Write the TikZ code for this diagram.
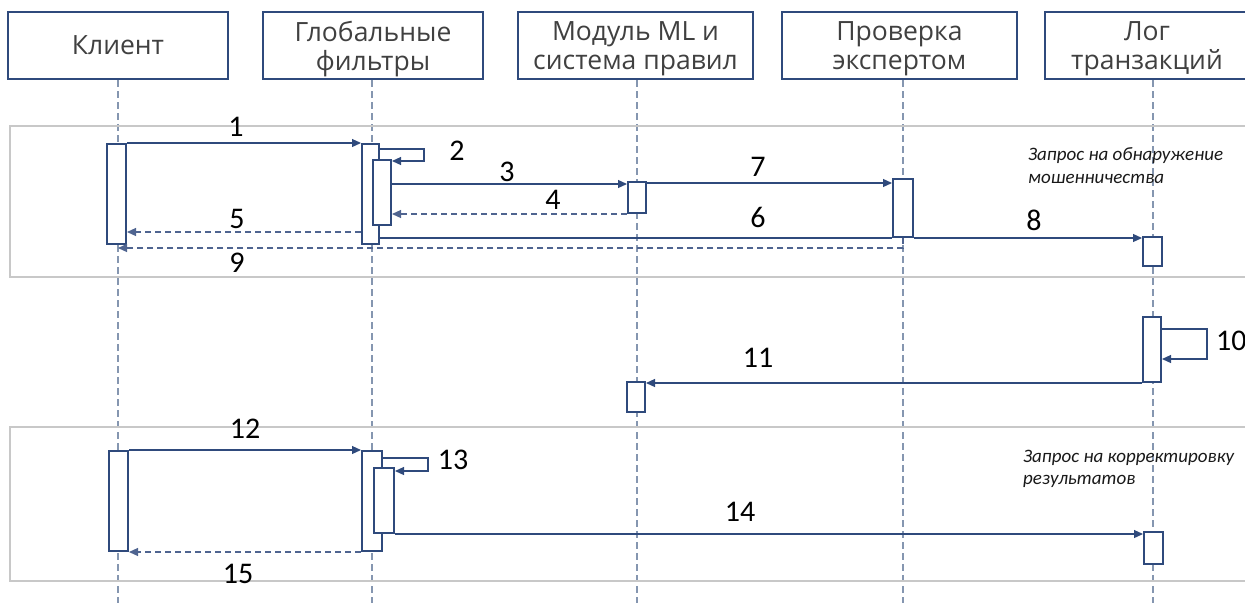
\documentclass[tikz,border=0pt]{standalone}
\usepackage{fontspec}
\setmainfont{Open Sans}
\newfontfamily\numfont{Carlito}
\usetikzlibrary{arrows.meta}
\definecolor{navy}{HTML}{2F4A7C}
\definecolor{lifec}{HTML}{8596B0}
\definecolor{retc}{HTML}{4F6490}
\definecolor{framec}{HTML}{C8C8C8}
\definecolor{textgray}{HTML}{404040}
\begin{document}
\begin{tikzpicture}[x=1pt,y=-1pt,
  head/.style={draw=navy, line width=2pt, text=textgray, font=\fontsize{26.5}{29}\selectfont, align=center, inner sep=0pt, minimum height=67pt, text depth=0pt},
  life/.style={draw=lifec, line width=1.1pt, dash pattern=on 7pt off 4pt},
  act/.style={draw=navy, line width=2pt, fill=white, inner sep=0pt, minimum width=18pt},
  msg/.style={draw=navy, line width=1.2pt, -{Triangle[length=9pt,width=8pt]}},
  ret/.style={draw=retc, line width=1.2pt, dash pattern=on 6pt off 4pt, -{Triangle[length=9pt,width=8pt]}},
  plain/.style={draw=navy, line width=1.2pt},
  frame/.style={draw=framec, line width=2pt},
  num/.style={font=\numfont\fontsize{30}{32}\selectfont, inner sep=0pt},
  note/.style={font=\numfont\itshape\fontsize{19}{22}\selectfont, inner sep=0pt, anchor=base west, text=black!90}
]
\useasboundingbox (0,0) rectangle (1245,603);

% headers
\node[head, minimum width=220pt] (hK) at (118,45.5) {Клиент};
\node[head, minimum width=220pt] (hF) at (373,45.5) {Глобальные\\фильтры};
\node[head, minimum width=235pt] (hM) at (635.5,45.5) {Модуль ML и\\система правил};
\node[head, minimum width=235pt] (hE) at (899.5,45.5) {Проверка\\экспертом};
\node[head, minimum width=204pt] (hL) at (1147,45.5) {Лог\\транзакций};

% lifeline ends
\coordinate (bK) at (118,603);
\coordinate (bF) at (372,603);
\coordinate (bM) at (637,603);
\coordinate (bE) at (903,603);
\coordinate (bL) at (1153,603);
\draw[life] (hK.south -| bK) -- (bK);
\draw[life] (hF.south -| bF) -- (bF);
\draw[life] (hM.south -| bM) -- (bM);
\draw[life] (hE.south -| bE) -- (bE);
\draw[life] (hL.south -| bL) -- (bL);

% frames
\draw[frame] (1245,126) -| (10,277) -- (1245,277);
\draw[frame] (1245,427) -| (10,581) -- (1245,581);

% activation boxes, block 1
\node[act, minimum width=19pt, minimum height=100pt] (c1) at (116.5,194) {};
\node[act, minimum width=17pt, minimum height=100pt] (f1) at (370.5,194) {};
\node[act, minimum height=65pt] (f1i) at (382,192.5) {};
\node[act, minimum height=31pt] (m1) at (637,197.5) {};
\node[act, minimum width=20pt, minimum height=58pt] (e1) at (903,208) {};
\node[act, minimum width=19pt, minimum height=29pt] (l1) at (1152.5,251.5) {};
% middle
\node[act, minimum height=65pt] (l2) at (1152,349.5) {};
\node[act, minimum height=30pt] (m2) at (636,397) {};
% block 2
\node[act, minimum width=19pt, minimum height=100pt] (c2) at (118.5,501) {};
\node[act, minimum width=20pt, minimum height=100pt] (f2) at (372,501) {};
\node[act, minimum width=20pt, minimum height=65pt] (f2i) at (384,500.5) {};
\node[act, minimum width=19pt, minimum height=32pt] (l3) at (1153.5,548) {};

% messages block 1
\draw[msg] (c1.north east) -- (f1.west |- c1.north);
\draw[msg] (f1.east |- 0,149) -- (424,149) -- (424,161) -- (f1i.east |- 0,161);
\draw[msg] (f1i.east |- 0,184) -- (m1.west |- 0,184);
\draw[ret] (m1.south west) -- (f1i.east |- m1.south);
\draw[msg] (m1.east |- 0,183) -- (e1.west |- 0,183);
\draw[plain] (f1.east |- e1.south) -- (e1.south west);
\draw[msg] (e1.south east) -- (l1.west |- e1.south);
\draw[ret] (f1.west |- 0,232) -- (c1.east |- 0,232);
\draw[ret] (e1.south) -- (e1.south |- 0,248) -- (bK |- 0,248);

% middle messages
\draw[msg] (l2.east |- 0,329) -- (1207,329) -- (1207,359) -- (l2.east |- 0,359);
\draw[msg] (l2.south west) -- (m2.east |- l2.south);

% block 2 messages
\draw[msg] (c2.north east) -- (f2.west |- c2.north);
\draw[msg] (f2.east |- 0,458) -- (428,458) -- (428,471) -- (f2i.east |- 0,471);
\draw[msg] (f2i.south east) -- (l3.west |- f2i.south);
\draw[ret] (f2.south west) -- (c2.east |- f2.south);

% labels
\node[num] (n1) at (236,127) {1};
\node[num] (n2) at (457,151) {2};
\node[num] (n3) at (507,172) {3};
\node[num] (n4) at (553,200) {4};
\node[num] (n5) at (237,219) {5};
\node[num] (n6) at (758,217) {6};
\node[num] (n7) at (758,167) {7};
\node[num] (n8) at (1034,220) {8};
\node[num] (n9) at (237,263) {9};
\node[num, anchor=west] (n10) at (1216,341) {10};
\node[num] (n11) at (758,358) {11};
\node[num] (n12) at (245,429) {12};
\node[num] (n13) at (453,460) {13};
\node[num] (n14) at (740,512) {14};
\node[num] (n15) at (238,574) {15};

\node[note] (t1a) at (1028,160) {Запрос на обнаружение};
\node[note] (t1b) at (1028,183) {мошенничества};
\node[note] (t2a) at (1023,462) {Запрос на корректировку};
\node[note] (t2b) at (1023,484) {результатов};
\end{tikzpicture}
\end{document}
